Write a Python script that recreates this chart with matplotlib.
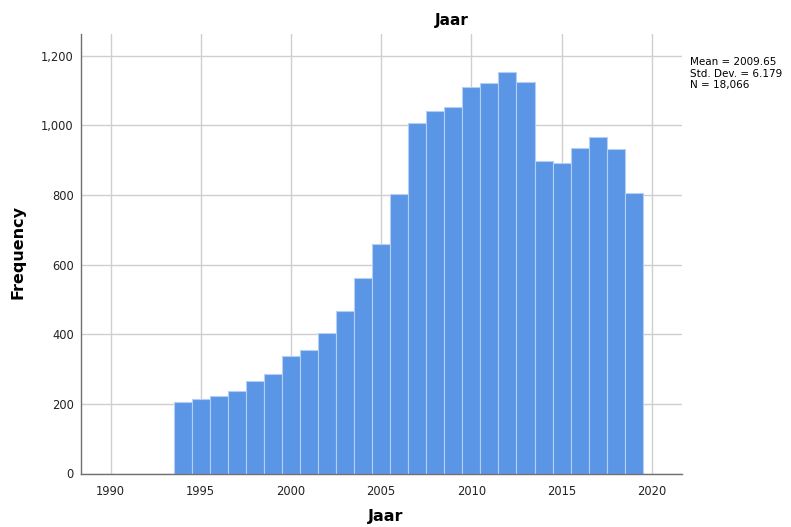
import numpy as np
import matplotlib.pyplot as plt

# yearly counts, one bin per year
years = np.arange(1994, 2020)
counts = [206, 214, 222, 236, 265, 286, 337, 356, 403, 467, 560, 659, 804,
          1006, 1040, 1051, 1110, 1121, 1153, 1124, 897, 891, 934, 967, 931, 806]
xticks = [1990, 1995, 2000, 2005, 2010, 2015, 2020]
yticks = [0, 200, 400, 600, 800, 1000, 1200]
stats = ["Mean = 2009.65", "Std. Dev. = 6.179", "N = 18,066"]

plt.rcParams['font.family'] = ['DejaVu Sans']

fig = plt.figure(figsize=(7.91, 5.27), dpi=100)
ax = fig.add_axes([80.7 / 791, 1 - 473.5 / 527, 601 / 791, 439.5 / 527])

ax.set_axisbelow(True)
ax.grid(True, color='#cfcfcf', linewidth=1)
ax.bar(years, counts, width=1.0, color='#5a95e6', edgecolor='#b5cff3', linewidth=0.8)

ax.set_xlim(1988.34, 2021.66)
ax.set_ylim(0, 1262)
ax.set_xticks(xticks)
ax.set_yticks(yticks)
ax.set_yticklabels([f"{v:,}" for v in yticks])
ax.tick_params(length=0, labelsize=8.3, colors='#222222')
ax.tick_params(axis='x', pad=8)
ax.tick_params(axis='y', pad=5)

for side in ['top', 'right']:
    ax.spines[side].set_visible(False)
for side in ['left', 'bottom']:
    ax.spines[side].set_color('#707070')
    ax.spines[side].set_linewidth(1)

fig.text(452 / 791, 1 - 20 / 527, "Jaar", ha='center', va='center',
         fontsize=11, fontweight='bold')
fig.text(386 / 791, 1 - 516 / 527, "Jaar", ha='center', va='center',
         fontsize=11.5, fontweight='bold')
fig.text(18 / 791, 1 - 252 / 527, "Frequency", ha='center', va='center',
         rotation=90, fontsize=11.5, fontweight='bold')
fig.text(690 / 791, 1 - 57 / 527, "\n".join(stats), ha='left', va='top',
         fontsize=7.5, linespacing=1.2)

fig.savefig("out.png", dpi=100)
